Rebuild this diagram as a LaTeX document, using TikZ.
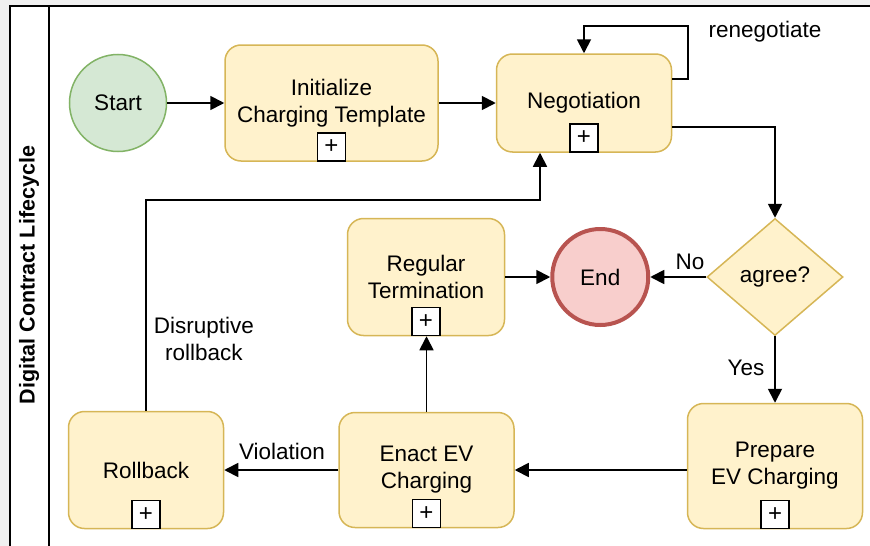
\documentclass[tikz,border=0pt]{standalone}
\usepackage{fontspec}
\setmainfont{Liberation Sans}
\usetikzlibrary{positioning,shapes.geometric,arrows.meta}
\definecolor{cTaskF}{HTML}{FFF2CC}
\definecolor{cTaskD}{HTML}{D6B656}
\definecolor{cStartF}{HTML}{D5E8D4}
\definecolor{cStartD}{HTML}{82B366}
\definecolor{cEndF}{HTML}{F8CECC}
\definecolor{cEndD}{HTML}{B85450}
\tikzset{mytask/.style={
  shape=rectangle,
  draw=cTaskD,
  fill=cTaskF,
  rounded corners=16pt,
  line width=1.5pt,
  inner sep=0pt,
  align=center,
  text = black,
  }
}
\tikzset{myplus/.style={
  shape=rectangle,
  draw=black,
  fill=white,
  line width=1.5pt,
  minimum size=28pt,
  inner sep=0pt,
  anchor=south,
  font=\fontsize{24}{24}\selectfont,
  }
}
\tikzset{mystart/.style={
  shape=circle,
  draw=cStartD,
  fill=cStartF,
  line width=1.5pt,
  minimum size=97pt,
  inner sep=0pt,
  }
}
\tikzset{myend/.style={
  shape=circle,
  draw=cEndD,
  fill=cEndF,
  line width=4pt,
  minimum size=96pt,
  inner sep=0pt,
  }
}
\tikzset{mygate/.style={
  shape=diamond,
  draw=cTaskD,
  fill=cTaskF,
  line width=1.5pt,
  minimum width=136pt,
  minimum height=117pt,
  inner sep=0pt,
  }
}
\tikzset{myflow/.style={
  draw=black,
  line width=1.8pt,
  -{Triangle[length=14pt,width=14pt]},
  }
}

\begin{document}
\begin{tikzpicture}[x=1pt,y=-1pt,font=\fontsize{22.5}{27}\selectfont,node distance=57pt]
  \useasboundingbox (0,0) rectangle (870,546);
  % pool frame
  \fill[gray!12] (0,0) rectangle (870,5);
  \fill[gray!12] (0,0) rectangle (9,546);
  \draw[line width=2.2pt] (870,6) -- (10,6) -- (10,546);
  \draw[line width=2.2pt] (49,6) -- (49,546);
  \node[rotate=90, font=\fontsize{21.5}{26}\selectfont\bfseries] (lane) at (29,275) {Digital Contract Lifecycle};

  % top row
  \node[mystart] (start) at (118,103) {Start};
  \node[mytask, right=57pt of start, minimum width=213pt, minimum height=116pt] (init) {Initialize\\Charging Template};
  \node[mytask, right=57pt of init, minimum width=175pt, minimum height=98pt] (nego) {Negotiation};

  % middle row
  \node[mygate] (gate) at (775,277) {agree?};
  \node[myend, left=56pt of gate] (end) {End};
  \node[mytask, left=45pt of end, minimum width=157pt, minimum height=117pt] (regular) {Regular\\Termination};

  % bottom row
  \node[mytask, minimum width=175pt, minimum height=125pt] (prep) at (775,466) {Prepare\\EV Charging};
  \node[mytask, left=172pt of prep, yshift=-4pt, minimum width=175pt, minimum height=115pt] (enact) {Enact EV\\Charging};
  \node[mytask, left=114pt of enact, minimum width=155pt, minimum height=117pt] (rollback) {Rollback};

  % sub-process markers
  \node[myplus] (initplus) at (init.south) {+};
  \node[myplus] (negoplus) at (nego.south) {+};
  \node[myplus] (regplus) at (regular.south) {+};
  \node[myplus] (prepplus) at (prep.south) {+};
  \node[myplus] (enactplus) at (enact.south) {+};
  \node[myplus] (rbplus) at (rollback.south) {+};

  % bends
  \coordinate (loop) at (688,26);
  \coordinate (rbk) at (540,200);

  % flows
  \draw[myflow] (start) -- (init);
  \draw[myflow] (init) -- (nego);
  \draw[myflow] ([yshift=24pt]nego.east) -| (loop) -| (nego.north);
  \draw[myflow] ([yshift=-24pt]nego.east) -| (gate.north);
  \draw[myflow] (gate.west) -- (end.east);
  \draw[myflow] (gate.south) -- (prep.north);
  \draw[myflow] (enact.east -| prep.west) -- (enact.east);
  \draw[myflow] (enact.north) -- (enact.north |- regular.south);
  \draw[myflow] (regular.east) -- (end.west);
  \draw[myflow] (enact.west) -- (rollback.east);
  \draw[myflow] (rollback.north) |- (rbk) -- (rbk |- nego.south);

  % flow labels
  \node (lblreneg) at (765,32) {renegotiate};
  \node (lblno) at (690,262) {No};
  \node (lblyes) at (746,368) {Yes};
  \node (lblviol) at (282,451) {Violation};
  \node[align=center] (lbldisr) at (204,339) {Disruptive\\rollback};
\end{tikzpicture}
\end{document}
